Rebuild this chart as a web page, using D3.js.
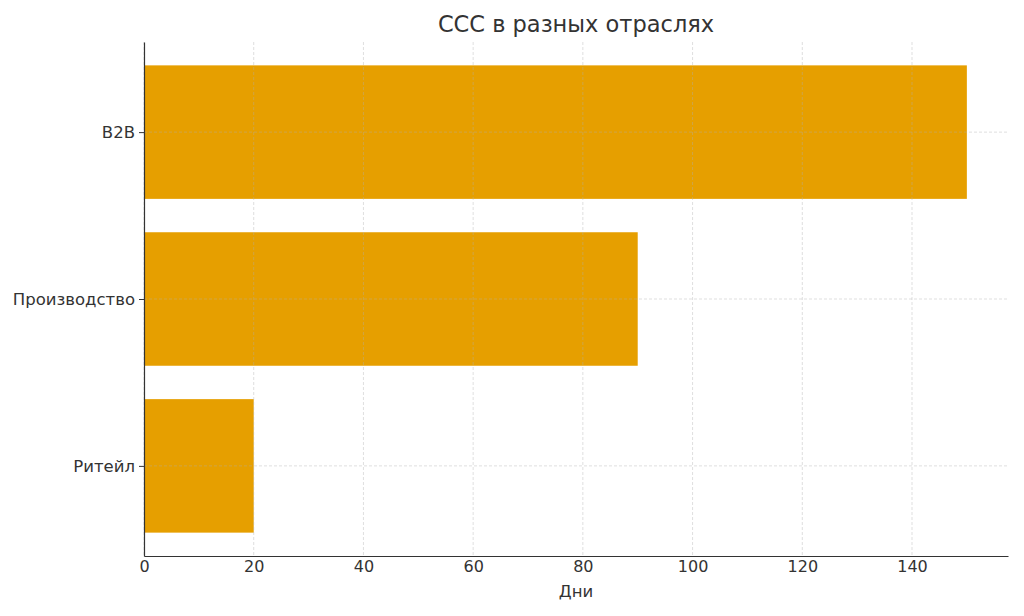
<!DOCTYPE html>
<html>
<head>
<meta charset="utf-8">
<script src="https://cdn.jsdelivr.net/npm/d3@7"></script>
<style>
  body { margin: 0; background: #fff; }
  text { font-family: "DejaVu Sans", sans-serif; fill: #333; }
</style>
</head>
<body>
<div id="chart"></div>
<script>
// data
const industries = ["Ритейл", "Производство", "B2B"];
const cccDays = [20, 90, 150];
const xTicks = [0, 20, 40, 60, 80, 100, 120, 140];

const width = 1024, height = 616;
const margin = {top: 42, right: 16, bottom: 60, left: 144};

const svg = d3.select("#chart")
  .append("svg")
  .attr("width", width)
  .attr("height", height);

// x scale, matplotlib-like 5% margin
const xScale = d3.scaleLinear()
  .domain([0, d3.max(cccDays) * 1.05])
  .range([margin.left, width - margin.right]);

// y scale: categories at 0,1,2 with bar height 0.8, padded
const barH = 0.8;
const yScale = d3.scaleLinear()
  .domain([-0.54, 2.54])
  .range([height - margin.bottom, margin.top]);

// bars
svg.append("g")
  .selectAll("rect")
  .data(industries)
  .enter()
  .append("rect")
  .attr("x", xScale(0))
  .attr("y", (d, i) => yScale(i + barH / 2))
  .attr("width", (d, i) => xScale(cccDays[i]) - xScale(0))
  .attr("height", (d, i) => yScale(i - barH / 2) - yScale(i + barH / 2))
  .style("fill", "#E69F00");

// grid over bars
const grid = svg.append("g");
grid.selectAll("line.vx")
  .data(xTicks)
  .enter()
  .append("line")
  .attr("x1", d => xScale(d))
  .attr("x2", d => xScale(d))
  .attr("y1", margin.top)
  .attr("y2", height - margin.bottom)
  .attr("stroke", "#b0b0b0")
  .attr("stroke-opacity", 0.5)
  .attr("stroke-dasharray", "3,2")
  .attr("stroke-width", 0.8);
grid.selectAll("line.hy")
  .data(industries)
  .enter()
  .append("line")
  .attr("x1", margin.left)
  .attr("x2", width - margin.right)
  .attr("y1", (d, i) => yScale(i))
  .attr("y2", (d, i) => yScale(i))
  .attr("stroke", "#b0b0b0")
  .attr("stroke-opacity", 0.5)
  .attr("stroke-dasharray", "3,2")
  .attr("stroke-width", 0.8);

// x axis
const xAxis = svg.append("g")
  .attr("transform", "translate(0," + (height - margin.bottom) + ")")
  .call(d3.axisBottom(xScale).tickValues(xTicks).tickSize(0).tickSizeOuter(0).tickPadding(5));
xAxis.select(".domain").attr("stroke", "#333").attr("stroke-width", 1.2);
xAxis.selectAll("text").style("font-size", "16px").attr("fill", "#333");

// y axis
const yAxis = svg.append("g")
  .attr("transform", "translate(" + margin.left + ",0)")
  .call(d3.axisLeft(yScale).tickValues([0, 1, 2]).tickFormat(i => industries[i]).tickSize(5).tickSizeOuter(0).tickPadding(4));
yAxis.select(".domain").attr("stroke", "#333").attr("stroke-width", 1.2);
yAxis.selectAll(".tick line").attr("stroke", "#333");
yAxis.selectAll("text").style("font-size", "16.5px").attr("fill", "#333");

// title
svg.append("text")
  .attr("x", (margin.left + width - margin.right) / 2)
  .attr("y", 32)
  .attr("text-anchor", "middle")
  .style("font-size", "22.5px")
  .text("CCC в разных отраслях");

// x label
svg.append("text")
  .attr("x", (margin.left + width - margin.right) / 2)
  .attr("y", 597)
  .attr("text-anchor", "middle")
  .style("font-size", "16.5px")
  .text("Дни");
</script>
</body>
</html>
